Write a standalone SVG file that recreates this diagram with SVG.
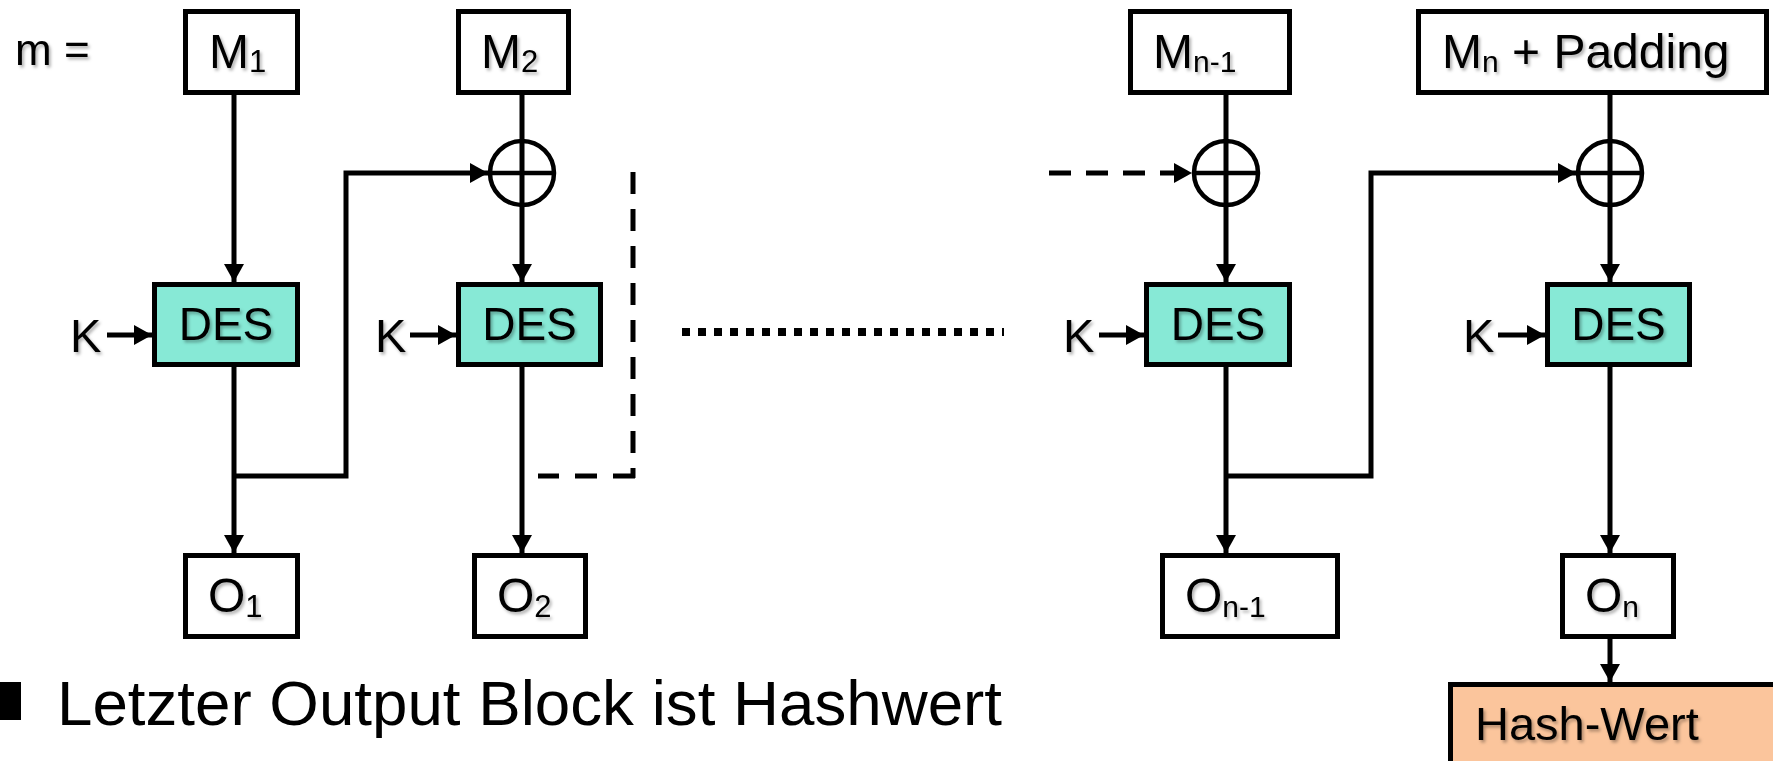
<svg xmlns="http://www.w3.org/2000/svg" width="1773" height="761" viewBox="0 0 1773 761">
<style>
text{font-family:"Liberation Sans",Arial,sans-serif;fill:#000}
.t{filter:url(#sh)}
.box{fill:#fff;stroke:#000;stroke-width:5}
.des{fill:#87E9D6;stroke:#000;stroke-width:5}
.hash{fill:#FBC59C;stroke:#000;stroke-width:5}
.ln{fill:none;stroke:#000;stroke-width:5}
.arr{marker-end:url(#ah)}
.dash{stroke-dasharray:22 15}
.xor{fill:none;stroke:#000;stroke-width:4.5}
</style>
<defs>
<marker id="ah" markerUnits="userSpaceOnUse" markerWidth="19" markerHeight="20" refX="18" refY="10" orient="auto">
<path d="M0,0 L18,10 L0,20 z" fill="#000"/>
</marker>
<filter id="sh" x="-10%" y="-10%" width="130%" height="140%">
<feDropShadow dx="2" dy="2.5" stdDeviation="1.5" flood-color="#000" flood-opacity="0.3"/>
</filter>
</defs>

<g id="label-m"><text class="t" x="15" y="65" font-size="44">m =</text></g>

<g id="M1"><rect class="box" x="185.5" y="11.5" width="112" height="81"/>
<text class="t" x="209" y="68" font-size="48">M<tspan font-size="31" dy="4">1</tspan></text></g>
<g id="M2"><rect class="box" x="458.5" y="11.5" width="110" height="81"/>
<text class="t" x="481" y="68" font-size="48">M<tspan font-size="31" dy="4">2</tspan></text></g>
<g id="Mn-1"><rect class="box" x="1130.5" y="11.5" width="159" height="81"/>
<text class="t" x="1153" y="68" font-size="48">M<tspan font-size="30" dy="4">n-1</tspan></text></g>
<g id="Mn"><rect class="box" x="1418.5" y="11.5" width="348" height="81"/>
<text class="t" x="1442" y="68" font-size="48">M<tspan font-size="30" dy="4">n</tspan><tspan dy="-4"> + Padding</tspan></text></g>

<g id="xor2"><circle class="xor" cx="522" cy="173" r="32"/><line class="xor" x1="490" y1="173" x2="554" y2="173"/></g>
<g id="xor3"><circle class="xor" cx="1226" cy="173" r="32"/><line class="xor" x1="1194" y1="173" x2="1258" y2="173"/></g>
<g id="xor4"><circle class="xor" cx="1610" cy="173" r="32"/><line class="xor" x1="1578" y1="173" x2="1642" y2="173"/></g>

<g id="DES1"><rect class="des" x="154.5" y="284.5" width="143" height="80"/>
<text class="t" x="226" y="340" font-size="46" text-anchor="middle">DES</text></g>
<g id="DES2"><rect class="des" x="458.5" y="284.5" width="142" height="80"/>
<text class="t" x="529.5" y="340" font-size="46" text-anchor="middle">DES</text></g>
<g id="DES3"><rect class="des" x="1146.5" y="284.5" width="143" height="80"/>
<text class="t" x="1218" y="340" font-size="46" text-anchor="middle">DES</text></g>
<g id="DES4"><rect class="des" x="1547.5" y="284.5" width="142" height="80"/>
<text class="t" x="1618.5" y="340" font-size="46" text-anchor="middle">DES</text></g>

<g id="K1"><text class="t" x="70" y="352" font-size="47">K</text></g>
<g id="K2"><text class="t" x="375" y="352" font-size="47">K</text></g>
<g id="K3"><text class="t" x="1063" y="352" font-size="47">K</text></g>
<g id="K4"><text class="t" x="1463" y="352" font-size="47">K</text></g>

<g id="O1"><rect class="box" x="185.5" y="555.5" width="112" height="81"/>
<text class="t" x="208" y="612" font-size="48">O<tspan font-size="31" dy="5">1</tspan></text></g>
<g id="O2"><rect class="box" x="474.5" y="555.5" width="111" height="81"/>
<text class="t" x="497" y="612" font-size="48">O<tspan font-size="31" dy="5">2</tspan></text></g>
<g id="On-1"><rect class="box" x="1162.5" y="555.5" width="175" height="81"/>
<text class="t" x="1185" y="612" font-size="48">O<tspan font-size="30" dy="5">n-1</tspan></text></g>
<g id="On"><rect class="box" x="1562.5" y="555.5" width="111" height="81"/>
<text class="t" x="1585" y="612" font-size="48">O<tspan font-size="30" dy="5">n</tspan></text></g>

<g id="hash"><rect class="hash" x="1450.5" y="684.5" width="400" height="200"/>
<text class="t" x="1475" y="740" font-size="47">Hash-Wert</text></g>

<g id="bullet"><rect x="-17" y="682" width="38" height="38" fill="#000"/>
<text x="57" y="725" font-size="63" textLength="945" lengthAdjust="spacingAndGlyphs">Letzter Output Block ist Hashwert</text></g>

<g id="connectors">
<path class="ln arr" d="M234,95 V282"/>
<path class="ln arr" d="M522,95 V282"/>
<path class="ln arr" d="M1226,95 V282"/>
<path class="ln arr" d="M1610,95 V282"/>
<path class="ln arr" d="M234,367 V553"/>
<path class="ln arr" d="M522,367 V553"/>
<path class="ln arr" d="M1226,367 V553"/>
<path class="ln arr" d="M1610,367 V553"/>
<path class="ln arr" d="M1610,639 V682"/>
<path class="ln arr" d="M107,335 H152"/>
<path class="ln arr" d="M410,335 H456"/>
<path class="ln arr" d="M1099,335 H1144"/>
<path class="ln arr" d="M1498,335 H1545"/>
<path class="ln arr" d="M234,476 H346 V173 H488"/>
<path class="ln arr" d="M1226,476 H1371 V173 H1576"/>
<path class="ln dash" d="M633,172 V478"/>
<path class="ln" style="stroke-dasharray:22 16" d="M635,476 H538"/>
<path class="ln dash arr" d="M1049,173 H1192"/>
<line x1="682" y1="332" x2="1004" y2="332" stroke="#000" stroke-width="8" stroke-dasharray="8 8"/>
</g>
</svg>
